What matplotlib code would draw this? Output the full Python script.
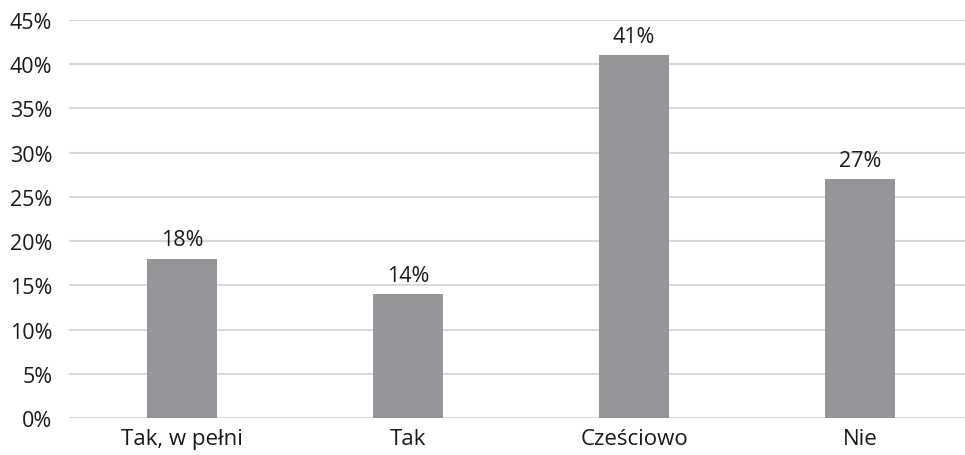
import matplotlib.pyplot as plt
import numpy as np

plt.rcParams['font.family'] = ['Open Sans', 'DejaVu Sans']

categories = ['Tak, w pełni', 'Tak', 'Cześciowo', 'Nie']
values = [18, 14, 41, 27]
yticks = [0, 5, 10, 15, 20, 25, 30, 35, 40, 45]

fig = plt.figure(figsize=(9.65, 4.56), dpi=100)
ax = fig.add_axes([69 / 965, 37 / 456, 1 - 69 / 965, 398 / 456])

x = np.arange(len(categories))
ax.bar(x, values, width=0.314, color='#939598', zorder=3)

for xi, v in zip(x, values):
    ax.annotate(f'{v}%', (xi, v), xytext=(0, 6), textcoords='offset points',
                ha='center', va='bottom', fontsize=15.5, color='#1a1a1a')

ax.set_ylim(0, 45)
ax.set_xlim(-0.5, 3.5 - 8 / 226)
ax.set_yticks(yticks)
ax.set_yticklabels([f'{t}%' for t in yticks])
ax.set_xticks(x)
ax.set_xticklabels(categories, fontsize=16)
ax.grid(axis='y', color='#d9d9d9', linewidth=1.5, zorder=0)
ax.tick_params(axis='both', length=0, colors='#1a1a1a')
ax.tick_params(axis='y', pad=12, labelsize=15.5)
ax.tick_params(axis='x', pad=7)
for s in ax.spines.values():
    s.set_visible(False)

fig.savefig('out.png', dpi=100)
